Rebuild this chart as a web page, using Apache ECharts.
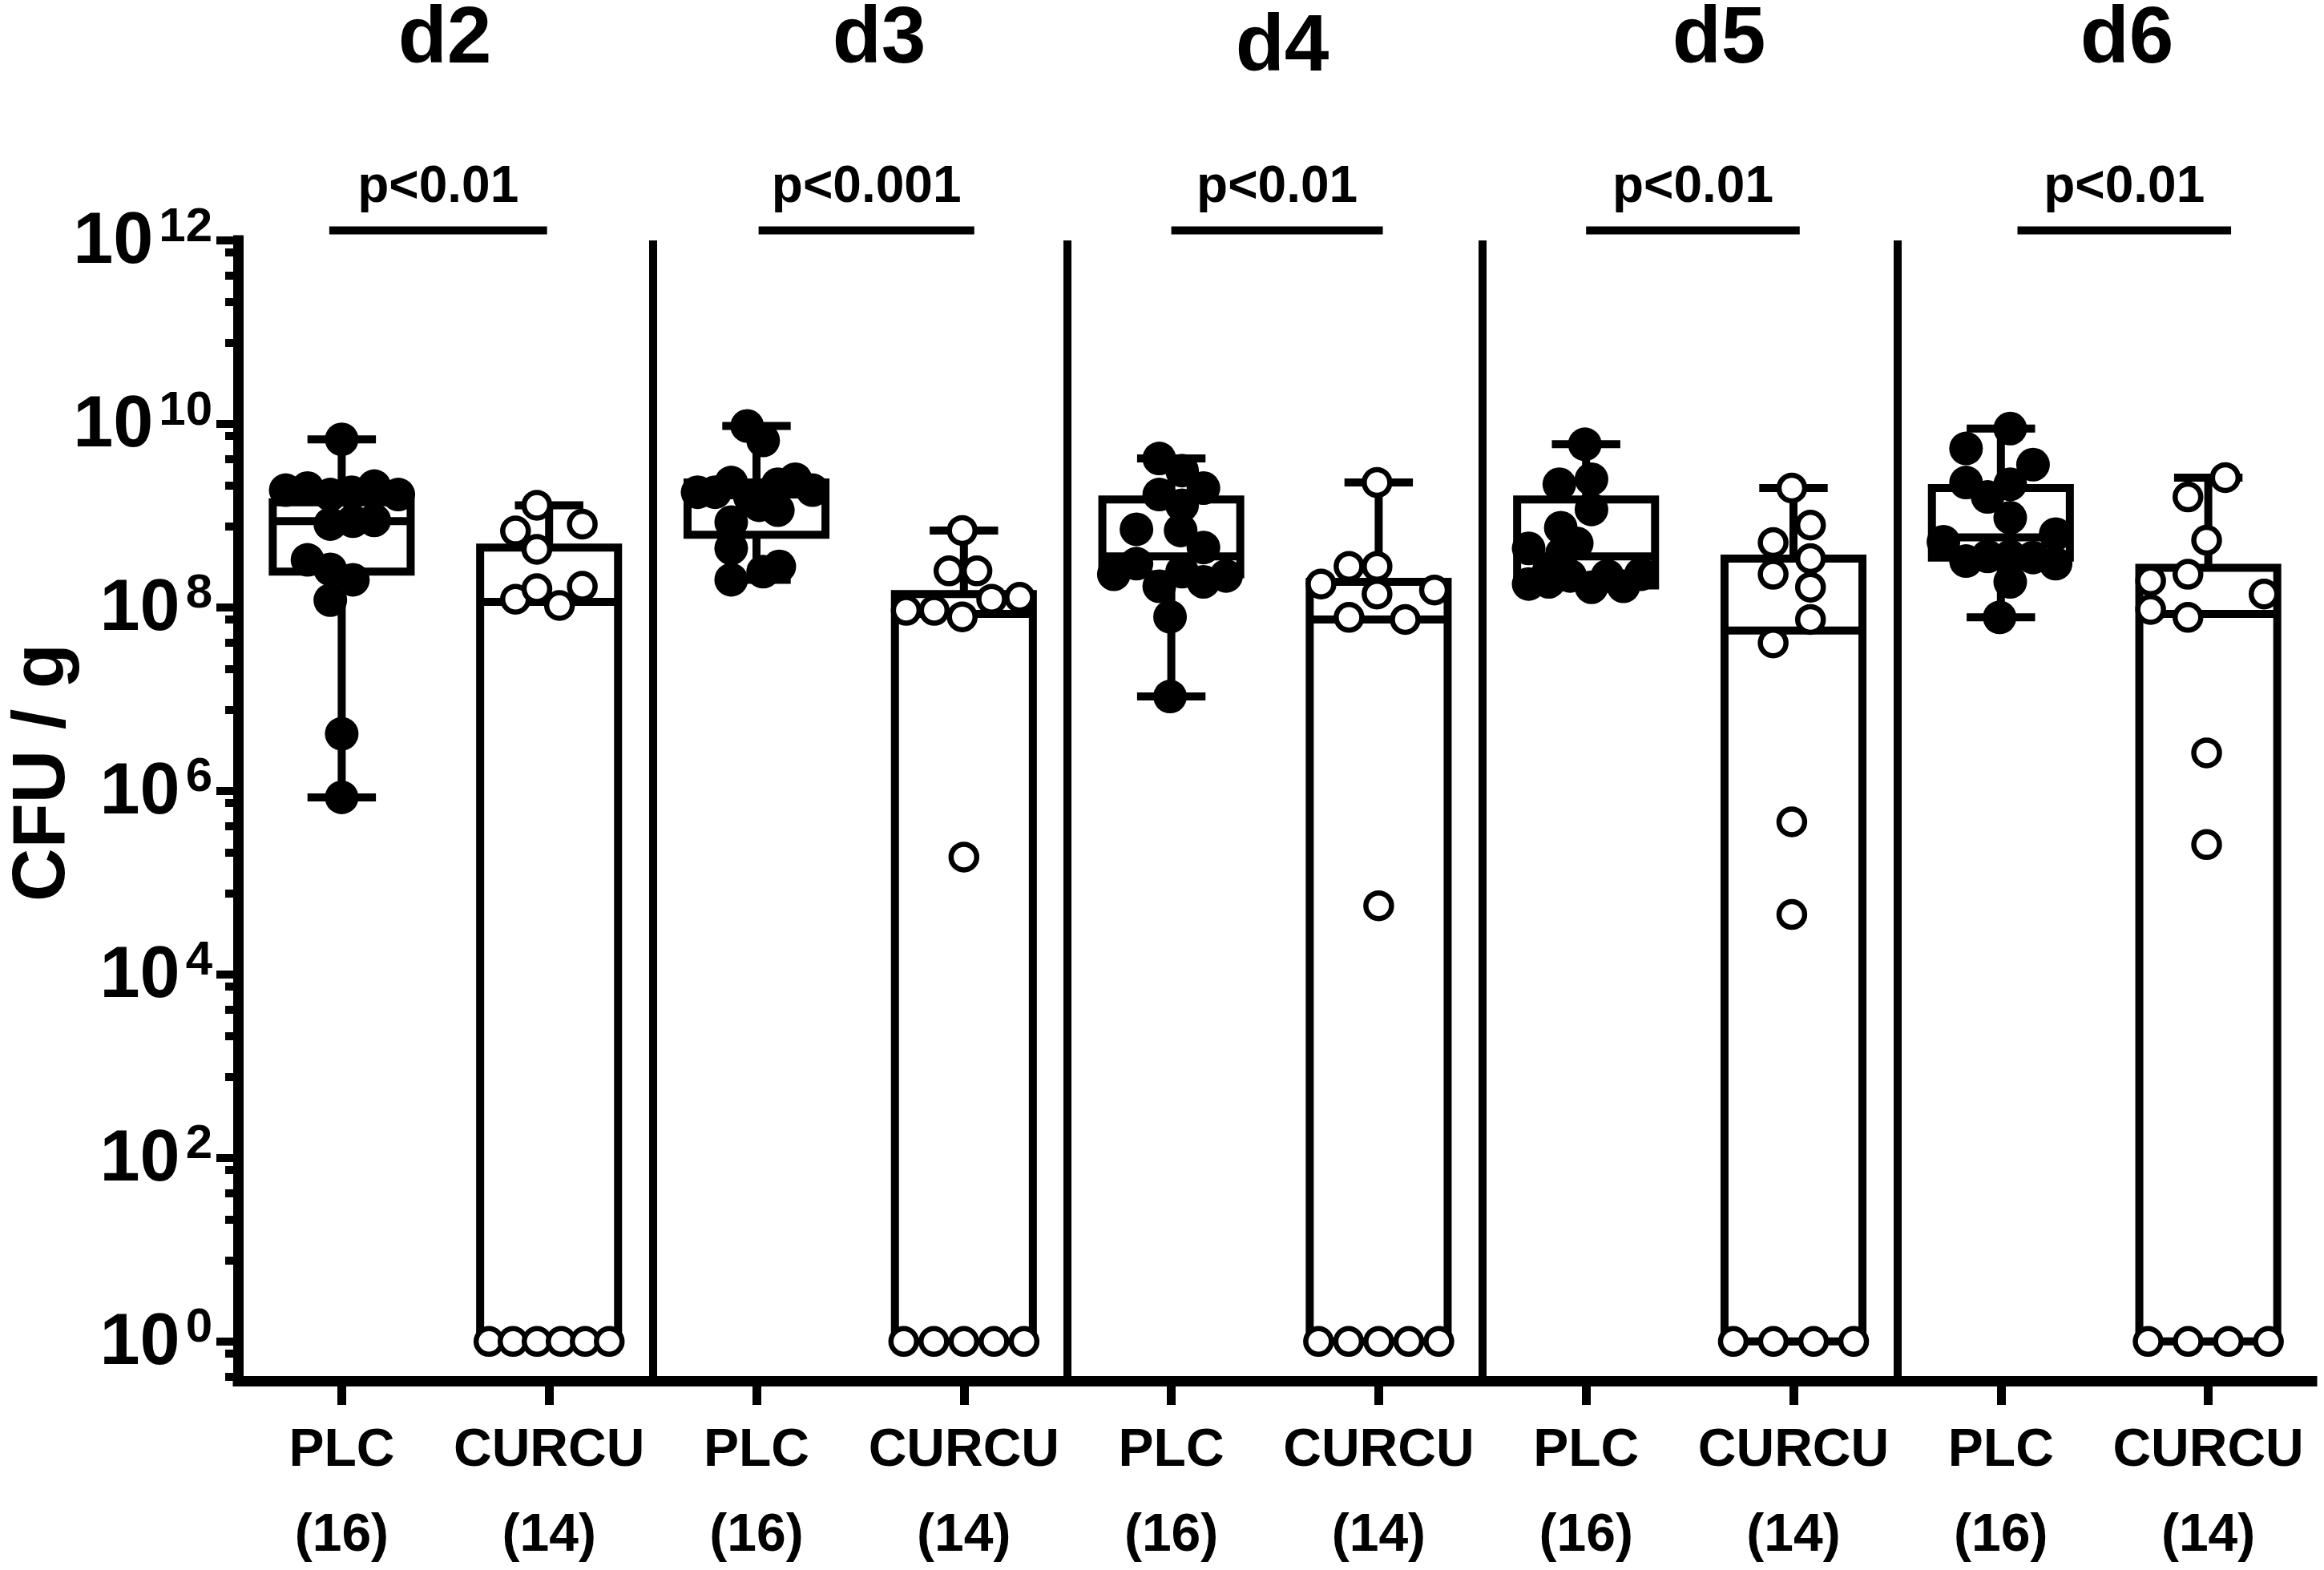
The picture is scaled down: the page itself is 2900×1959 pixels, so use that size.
<!DOCTYPE html>
<html>
<head>
<meta charset="utf-8">
<title>CFU / g</title>
<script src="https://cdn.jsdelivr.net/npm/echarts@6/dist/echarts.min.js"></script>
<style>
  html, body { margin: 0; padding: 0; background: #fff; }
  #main { width: 2900px; height: 1959px; }
</style>
</head>
<body>
<div id="main"></div>
<script>
var DAYS = ['d2', 'd3', 'd4', 'd5', 'd6'];
var GROUPS = ['PLC', 'CURCU'];
var GROUP_N = [16, 14];
var P_VALUES = ['p<0.01', 'p<0.001', 'p<0.01', 'p<0.01', 'p<0.01'];
var Y_TICKS = [0, 2, 4, 6, 8, 10, 12];          // powers of ten
var MINOR_STEPS = [0.13, 0.38, 0.67, 1.12];     // minor ticks below each major (decades)

// CFU / g, one value per animal (1 = below detection, plotted at 10^0)
var plcD2 = [6.8e9, 1.9e9, 2.0e9, 1.7e9, 1.8e9, 2.1e9, 1.7e9, 8.1e8, 8.7e8, 8.9e8, 3.3e8, 2.6e8, 2.0e8, 1.2e8, 4.2e6, 8.5e5];
var curD2 = [1.3e9, 6.8e8, 8.1e8, 4.3e8, 1.23e8, 1.6e8, 1.05e8, 1.7e8, 1, 1, 1, 1, 1, 1];
var plcD3 = [9.5e9, 6.6e9, 1.8e9, 1.8e9, 2.3e9, 1.6e9, 2.2e9, 2.5e9, 1.9e9, 1.15e9, 8.5e8, 4.4e8, 2.0e8, 2.45e8, 2.8e8, 1.3e9];
var curD3 = [6.9e8, 2.5e8, 2.5e8, 9.3e7, 9.3e7, 7.9e7, 1.23e8, 1.29e8, 1.9e5, 1, 1, 1, 1, 1];
var plcD4 = [4.2e9, 3.1e9, 1.7e9, 2.0e9, 1.3e9, 7.1e8, 6.9e8, 4.5e8, 2.3e8, 3.0e8, 1.7e8, 2.45e8, 1.9e8, 2.2e8, 7.9e7, 1.07e7];
var curD4 = [2.3e9, 2.8e8, 2.8e8, 1.8e8, 1.4e8, 1.55e8, 7.8e7, 7.4e7, 5.6e4, 1, 1, 1, 1, 1];
var plcD5 = [6.0e9, 2.5e9, 2.2e9, 1.17e9, 7.4e8, 5.0e8, 4.4e8, 1.8e8, 2.5e8, 2.2e8, 1.66e8, 2.2e8, 1.7e8, 2.3e8, 1.9e8, 3.9e8];
var curD5 = [2.0e9, 7.9e8, 5.1e8, 3.4e8, 2.3e8, 1.66e8, 7.4e7, 4.1e7, 4.6e5, 4.5e4, 1, 1, 1, 1];
var plcD6 = [8.9e9, 5.4e9, 3.6e9, 2.3e9, 2.2e9, 1.6e9, 9.5e8, 5.2e8, 6.3e8, 3.2e8, 3.6e8, 3.6e8, 3.5e8, 3.0e8, 1.9e8, 7.8e7];
var curD6 = [2.6e9, 1.6e9, 5.4e8, 2.3e8, 1.95e8, 1.4e8, 9.5e7, 7.8e7, 2.6e6, 2.6e5, 1, 1, 1, 1];

// horizontal scatter of the dots inside each column (in column widths)
var plcD2X = [0, -0.27, -0.165, -0.055, 0.048, 0.157, 0.273, -0.055, 0.054, 0.157, -0.165, -0.055, 0.054, -0.055, 0, 0];
var curD2X = [-0.059, -0.162, 0.16, -0.059, -0.162, -0.059, 0.05, 0.16, -0.29, -0.174, -0.058, 0.058, 0.174, 0.29];
var plcD3X = [-0.045, 0.032, -0.284, -0.2, -0.122, -0.032, 0.103, 0.187, 0.27, 0.103, -0.122, -0.122, -0.122, 0.032, 0.11, 0.013];
var curD3X = [-0.008, -0.072, 0.063, -0.278, -0.143, -0.008, 0.134, 0.269, 0, -0.29, -0.145, 0, 0.145, 0.29];
var plcD4X = [-0.058, 0.052, -0.058, 0.155, 0.052, -0.168, 0.045, 0.155, -0.277, -0.168, -0.058, 0.052, 0.155, 0.264, -0.006, -0.006];
var curD4X = [-0.008, -0.143, -0.008, -0.278, -0.008, 0.269, -0.143, 0.128, 0, -0.29, -0.145, 0, 0.145, 0.29];
var plcD5X = [-0.006, 0.026, -0.129, 0.026, -0.122, -0.045, -0.277, -0.277, -0.18, -0.077, 0.026, 0.103, 0.18, 0.264, -0.18, -0.116];
var curD5X = [-0.008, 0.082, -0.098, 0.082, -0.098, 0.082, 0.082, -0.098, -0.008, -0.008, -0.29, -0.097, 0.097, 0.29];
var plcD6X = [0.045, -0.168, 0.155, -0.168, 0.045, -0.064, 0.045, -0.277, 0.264, -0.168, -0.064, 0.045, 0.155, 0.264, 0.045, -0.006];
var curD6X = [0.082, -0.098, -0.008, -0.098, -0.278, 0.269, -0.278, -0.098, -0.008, -0.008, -0.29, -0.097, 0.097, 0.29];

// box & whiskers (min to max), columns: PLC d2, CURCU d2, PLC d3, ...
var boxMin    = [8.5e5, 1, 2.0e8, 1, 1.07e7, 1, 1.66e8, 1, 7.8e7, 1];
var boxQ1     = [2.45e8, 1, 6.2e8, 1, 2.3e8, 1, 1.74e8, 1, 3.5e8, 1];
var boxMedian = [8.7e8, 1.15e8, 1.7e9, 8.5e7, 3.6e8, 7.4e7, 3.6e8, 5.6e7, 5.8e8, 8.5e7];
var boxQ3     = [1.4e9, 4.5e8, 2.3e9, 1.4e8, 1.5e9, 1.9e8, 1.5e9, 3.4e8, 2.0e9, 2.7e8];
var boxMax    = [6.8e9, 1.3e9, 9.5e9, 6.9e8, 4.2e9, 2.3e9, 6.0e9, 2.0e9, 8.9e9, 2.6e9];

var FONT = '"Liberation Sans", Arial, Helvetica, sans-serif';
var Y_MIN = -0.43, Y_MAX = 12;
var BOX_W = 0.665, CAP_W = 0.33;

var plcSets = [plcD2, plcD3, plcD4, plcD5, plcD6];
var curSets = [curD2, curD3, curD4, curD5, curD6];
var plcJit = [plcD2X, plcD3X, plcD4X, plcD5X, plcD6X];
var curJit = [curD2X, curD3X, curD4X, curD5X, curD6X];

function toPoints(sets, jit, shift) {
  var out = [];
  sets.forEach(function (vals, d) {
    vals.forEach(function (v, i) {
      out.push([2 * d + shift + jit[d][i], Math.log10(v)]);
    });
  });
  return out;
}
var plcPoints = toPoints(plcSets, plcJit, 0);
var curPoints = toPoints(curSets, curJit, 1);

var boxData = boxMin.map(function (v, c) {
  return [c, Math.log10(v), Math.log10(boxQ1[c]), Math.log10(boxMedian[c]),
          Math.log10(boxQ3[c]), Math.log10(boxMax[c])];
});

var minorTicks = [];
Y_TICKS.forEach(function (t) {
  MINOR_STEPS.forEach(function (s) {
    if (t - s > Y_MIN) minorTicks.push(+(t - s).toFixed(2));
  });
});

var brackets = [[-0.06, 0.99], [2.01, 3.05], [4.0, 5.02], [6.0, 7.03], [8.08, 9.11]];
var separators = [1.5, 3.5, 5.5, 7.5];
var catTicks = [0, 1, 2, 3, 4, 5, 6, 7, 8, 9];

function renderBox(params, api) {
  var x = api.value(0);
  var pMin = api.coord([x, api.value(1)]);
  var pQ1 = api.coord([x, api.value(2)]);
  var pMed = api.coord([x, api.value(3)]);
  var pQ3 = api.coord([x, api.value(4)]);
  var pMax = api.coord([x, api.value(5)]);
  var unit = api.size([1, 0])[0];
  var hb = unit * BOX_W / 2, hc = unit * CAP_W / 2;
  var st = { stroke: '#000', lineWidth: 10 };
  return {
    type: 'group',
    children: [
      { type: 'line', shape: { x1: pMax[0], y1: pMax[1], x2: pQ3[0], y2: pQ3[1] }, style: st },
      { type: 'line', shape: { x1: pQ1[0], y1: pQ1[1], x2: pMin[0], y2: pMin[1] }, style: st },
      { type: 'line', shape: { x1: pMax[0] - hc, y1: pMax[1], x2: pMax[0] + hc, y2: pMax[1] }, style: st },
      { type: 'line', shape: { x1: pMin[0] - hc, y1: pMin[1], x2: pMin[0] + hc, y2: pMin[1] }, style: st },
      { type: 'rect', shape: { x: pQ3[0] - hb, y: pQ3[1], width: 2 * hb, height: pQ1[1] - pQ3[1] },
        style: { fill: '#fff', stroke: '#000', lineWidth: 10 } },
      { type: 'line', shape: { x1: pMed[0] - hb, y1: pMed[1], x2: pMed[0] + hb, y2: pMed[1] }, style: st }
    ]
  };
}

function renderBracket(params, api) {
  var a = api.coord([api.value(0), 12.11]);
  var b = api.coord([api.value(1), 12.11]);
  var t = api.coord([(api.value(0) + api.value(1)) / 2, 12.57]);
  return {
    type: 'group',
    children: [
      { type: 'line', shape: { x1: a[0], y1: a[1], x2: b[0], y2: b[1] }, style: { stroke: '#000', lineWidth: 10 } },
      { type: 'text', x: t[0], y: t[1], style: {
          text: P_VALUES[params.dataIndex], align: 'center', verticalAlign: 'middle',
          fontSize: 64, fontWeight: 'bold', fontFamily: FONT, fill: '#000' } }
    ]
  };
}

var TITLE_X = [555, 1097, 1600, 2145, 2654];
var TITLE_Y = [50, 50, 60, 50, 50];

var myChart = echarts.init(document.getElementById('main'));

var option = {
  backgroundColor: '#fff',
  animation: false,
  grid: { left: 297, right: 15, top: 300, bottom: 236, containLabel: false, outerBoundsMode: 'none' },
  graphic: DAYS.map(function (d, i) {
    return { type: 'text', x: TITLE_X[i], y: TITLE_Y[i], style: {
      text: d, align: 'center', verticalAlign: 'middle',
      fontSize: 100, fontWeight: 'bold', fontFamily: FONT, fill: '#000' } };
  }).concat([{
    type: 'text', x: 55, y: 964, rotation: Math.PI / 2, style: {
      text: 'CFU / g', align: 'center', verticalAlign: 'middle',
      fontSize: 92, fontWeight: 'bold', fontFamily: FONT, fill: '#000' }
  }]),
  xAxis: {
    type: 'value', min: -0.5, max: 9.5,
    splitLine: { show: false },
    axisLine: { onZero: false, lineStyle: { color: '#000', width: 13, cap: 'square' } },
    axisTick: { customValues: catTicks, length: 30, lineStyle: { color: '#000', width: 11 } },
    axisLabel: {
      customValues: catTicks, margin: 35,
      formatter: function (v) { return GROUPS[v % 2] + '\n(' + GROUP_N[v % 2] + ')'; },
      fontSize: 66, fontWeight: 'bold', fontFamily: FONT, color: '#000', lineHeight: 106
    }
  },
  yAxis: [{
    type: 'value', min: Y_MIN, max: Y_MAX,
    splitLine: { show: false },
    axisLine: { show: true, onZero: false, lineStyle: { color: '#000', width: 13, cap: 'square' } },
    axisTick: { customValues: Y_TICKS, length: 27, lineStyle: { color: '#000', width: 10 } },
    axisLabel: {
      customValues: Y_TICKS, margin: 32,
      formatter: function (v) { return '{b|10}{s|' + v + '}'; },
      rich: {
        b: { fontSize: 90, fontWeight: 'bold', fontFamily: FONT, color: '#000', lineHeight: 92, padding: [6, 0, 0, 0] },
        s: { fontSize: 60, fontWeight: 'bold', fontFamily: FONT, color: '#000', verticalAlign: 'top', padding: [0, 0, 18, 7] }
      }
    }
  }, {
    type: 'value', min: Y_MIN, max: Y_MAX, position: 'left',
    splitLine: { show: false },
    axisLine: { show: false, onZero: false },
    axisTick: { customValues: minorTicks, length: 16, lineStyle: { color: '#000', width: 10 } },
    axisLabel: { show: false }
  }],
  series: [{
    type: 'custom', name: 'box', renderItem: renderBox, data: boxData, z: 2,
    encode: { x: 0, y: [1, 2, 3, 4, 5] }, clip: false
  }, {
    type: 'scatter', name: 'PLC', data: plcPoints, z: 4,
    symbol: 'circle', symbolSize: 42,
    itemStyle: { color: '#000', opacity: 1 },
    markLine: {
      silent: true, symbol: 'none', label: { show: false },
      lineStyle: { color: '#000', width: 10, type: 'solid' },
      data: separators.map(function (x) { return { xAxis: x }; })
    }
  }, {
    type: 'scatter', name: 'CURCU', data: curPoints, z: 5,
    symbol: 'circle', symbolSize: 32,
    itemStyle: { color: '#fff', borderColor: '#000', borderWidth: 6.5, opacity: 1 }
  }, {
    type: 'custom', name: 'p', renderItem: renderBracket, clip: false, z: 6,
    data: brackets, encode: { x: [0, 1] }
  }]
};

myChart.setOption(option);
</script>
</body>
</html>
